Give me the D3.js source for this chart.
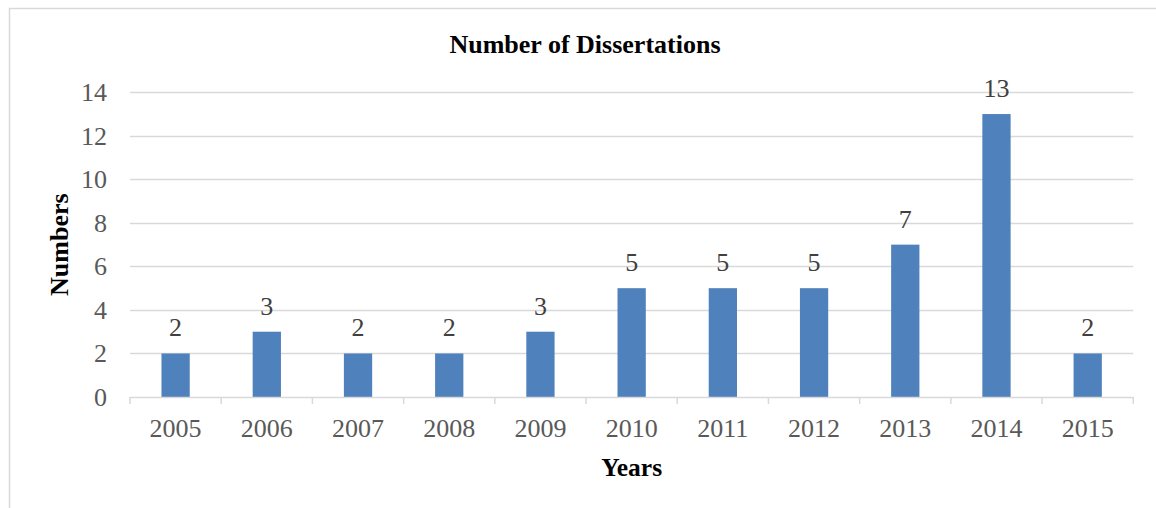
<!DOCTYPE html>
<html>
<head>
<meta charset="utf-8">
<script src="https://cdn.jsdelivr.net/npm/d3@7"></script>
<style>
  html, body { margin: 0; padding: 0; background: #fff; }
  svg { display: block; }
  text { font-family: "Liberation Serif", "Times New Roman", serif; }
</style>
</head>
<body>
<svg id="chart" width="1156" height="508"></svg>
<script>
const years = ["2005","2006","2007","2008","2009","2010","2011","2012","2013","2014","2015"];
const counts = [2, 3, 2, 2, 3, 5, 5, 5, 7, 13, 2];
const yTicks = [0, 2, 4, 6, 8, 10, 12, 14];
const chartTitle = "Number of Dissertations";
const xTitle = "Years";
const yTitle = "Numbers";

const svg = d3.select("#chart");

// chart frame
svg.append("rect")
  .attr("x", 9.5).attr("y", 8.5)
  .attr("width", 1160).attr("height", 520)
  .attr("fill", "#fff")
  .attr("stroke", "#D9D9D9")
  .attr("stroke-width", 1.5);

const plotL = 130, plotR = 1133.3, plotT = 92.3, plotB = 397;

const x = d3.scaleBand()
  .domain(years)
  .range([plotL, plotR])
  .paddingInner(0.69)
  .paddingOuter(0.345);

const y = d3.scaleLinear()
  .domain([0, 14])
  .range([plotB, plotT]);

// gridlines
svg.append("g")
  .selectAll("line")
  .data(yTicks.filter(d => d > 0))
  .join("line")
  .attr("x1", plotL).attr("x2", plotR)
  .attr("y1", d => Math.round(y(d)) + 0.5)
  .attr("y2", d => Math.round(y(d)) + 0.5)
  .attr("stroke", "#D9D9D9")
  .attr("stroke-width", 1.5);

// y tick labels
svg.append("g")
  .selectAll("text")
  .data(yTicks)
  .join("text")
  .attr("x", 107)
  .attr("y", d => y(d))
  .attr("dy", "0.34em")
  .attr("text-anchor", "end")
  .attr("font-size", 26)
  .attr("fill", "#595959")
  .text(d => d);

// bars
svg.append("g")
  .selectAll("rect")
  .data(years.map((yr, i) => ({ yr, v: counts[i] })))
  .join("rect")
  .attr("x", d => x(d.yr))
  .attr("width", x.bandwidth())
  .attr("y", d => y(d.v))
  .attr("height", d => y(0) - y(d.v))
  .attr("fill", "#4F81BD");

// x axis line
svg.append("line")
  .attr("x1", plotL).attr("x2", plotR)
  .attr("y1", plotB + 0.5).attr("y2", plotB + 0.5)
  .attr("stroke", "#D9D9D9")
  .attr("stroke-width", 1.5);

// x tick marks at category boundaries
const step = x.step();
const bounds = d3.range(years.length + 1).map(i => plotL + i * step);
svg.append("g")
  .selectAll("line")
  .data(bounds)
  .join("line")
  .attr("x1", d => d).attr("x2", d => d)
  .attr("y1", plotB).attr("y2", plotB + 7)
  .attr("stroke", "#D9D9D9")
  .attr("stroke-width", 1.5);

// x tick labels
svg.append("g")
  .selectAll("text")
  .data(years)
  .join("text")
  .attr("x", d => x(d) + x.bandwidth() / 2)
  .attr("y", 437)
  .attr("text-anchor", "middle")
  .attr("font-size", 26)
  .attr("fill", "#595959")
  .text(d => d);

// data labels
svg.append("g")
  .selectAll("text")
  .data(years.map((yr, i) => ({ yr, v: counts[i] })))
  .join("text")
  .attr("x", d => x(d.yr) + x.bandwidth() / 2)
  .attr("y", d => y(d.v) - 17)
  .attr("text-anchor", "middle")
  .attr("font-size", 26)
  .attr("fill", "#404040")
  .text(d => d.v);

// title
svg.append("text")
  .attr("x", 585)
  .attr("y", 53)
  .attr("text-anchor", "middle")
  .attr("font-size", 26)
  .attr("font-weight", "bold")
  .attr("fill", "#000")
  .text(chartTitle);

// x axis title
svg.append("text")
  .attr("x", (plotL + plotR) / 2)
  .attr("y", 476)
  .attr("text-anchor", "middle")
  .attr("font-size", 25.5)
  .attr("font-weight", "bold")
  .attr("fill", "#000")
  .text(xTitle);

// y axis title
svg.append("text")
  .attr("transform", `translate(68, ${(plotT + plotB) / 2}) rotate(-90)`)
  .attr("text-anchor", "middle")
  .attr("font-size", 26)
  .attr("font-weight", "bold")
  .attr("fill", "#000")
  .text(yTitle);
</script>
</body>
</html>
